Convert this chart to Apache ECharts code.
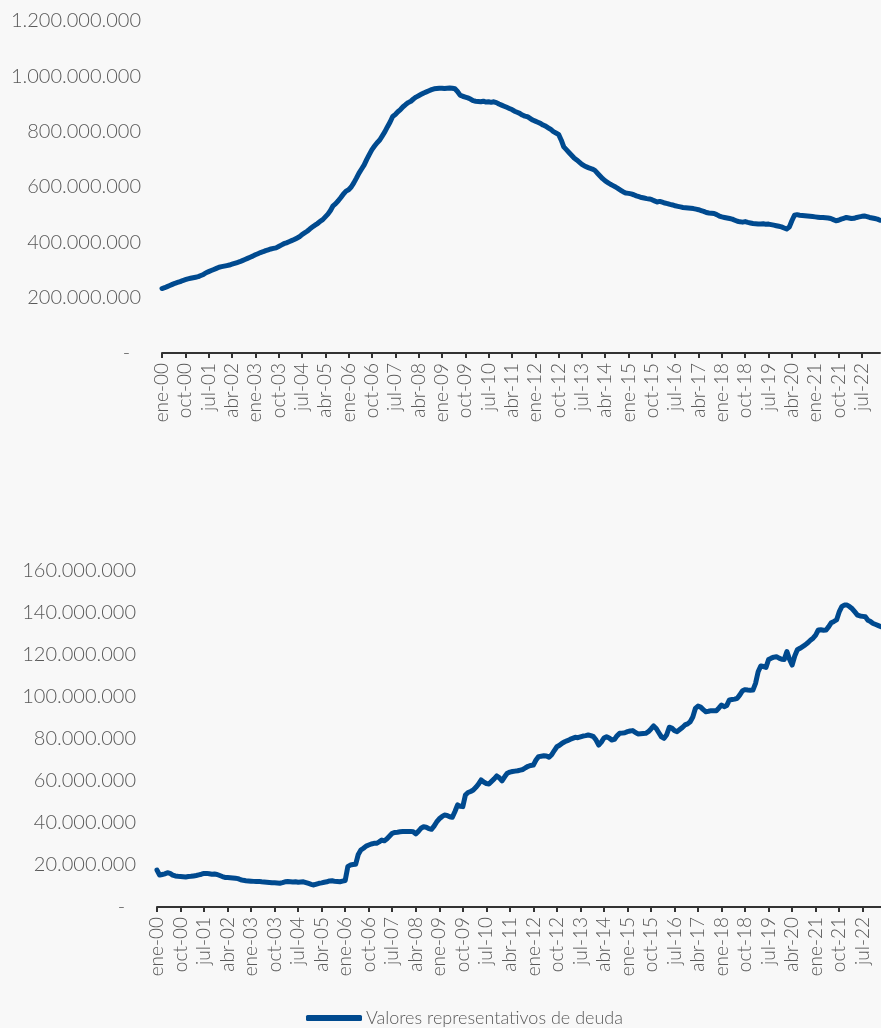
<!DOCTYPE html>
<html lang="es">
<head>
<meta charset="utf-8">
<title>Valores representativos de deuda</title>
<script src="https://cdn.jsdelivr.net/npm/echarts@6/dist/echarts.min.js"></script>
<style>
  html, body { margin: 0; padding: 0; background: #f8f8f8; }
  #chart { width: 881px; height: 1028px; }
</style>
</head>
<body>
<div id="chart"></div>
<script>
// Meses y años del eje horizontal (ene-00 ... feb-23)
const monthNames = ['ene','feb','mar','abr','may','jun','jul','ago','sep','oct','nov','dic'];
const years = ['00','01','02','03','04','05','06','07','08','09','10','11','12','13','14','15','16','17','18','19','20','21','22','23'];
const categories = [];
years.forEach(y => monthNames.forEach(m => categories.push(m + '-' + y)));
categories.length = 278;

const seriesName = 'Valores representativos de deuda';

// Saldo mensual, panel superior (millones)
const debtUpper = [
  233, 236, 240, 244, 248, 252, 255, 258, 262, 265, 268, 270,
  272, 274, 276, 280, 284, 290, 294, 298, 302, 306, 310, 312,
  314, 316, 318, 321, 324, 327, 330, 334, 338, 342, 346, 350,
  355, 359, 363, 366, 370, 373, 376, 378, 380, 385, 390, 395,
  398, 402, 406, 410, 415, 420, 428, 434, 440, 448, 455, 462,
  468, 476, 482, 492, 502, 515, 532, 540, 550, 562, 575, 585,
  590, 600, 615, 632, 650, 665, 680, 700, 718, 735, 748, 760,
  770, 785, 800, 818, 835, 855, 862, 872, 880, 890, 898, 905,
  910, 918, 925, 930, 935, 940, 944, 948, 952, 955, 956, 957,
  957, 956, 957, 958, 957, 955, 945, 932, 928, 925, 922, 918,
  912, 910, 909, 908, 910, 907, 908, 906, 908, 905, 900, 896,
  892, 888, 884, 880, 874, 870, 866, 860, 856, 854, 848, 842,
  838, 834, 830, 824, 820, 814, 808, 800, 795, 790, 770, 745,
  735, 725, 715, 705, 698, 690, 682, 676, 672, 668, 665, 660,
  650, 640, 630, 622, 616, 610, 605, 600, 594, 588, 582, 578,
  577, 575, 572, 568, 565, 562, 560, 558, 557, 554, 550, 546,
  548, 545, 542, 540, 537, 535, 532, 530, 528, 526, 525, 524,
  523, 522, 520, 518, 515, 512, 508, 506, 505, 504, 500, 495,
  492, 490, 488, 486, 484, 480, 476, 474, 473, 475, 472, 470,
  468, 467, 466, 466, 467, 465, 466, 464, 462, 460, 458, 456,
  452, 448, 455, 478, 498, 500, 498, 497, 496, 495, 494, 493,
  492, 491, 490, 490, 489, 488, 486, 482, 478, 480, 484, 487,
  490, 488, 486, 487, 490, 492, 494, 495, 493, 490, 488, 486,
  484, 480
];

// Saldo mensual, panel inferior (millones)
const debtLower = [
  17.6, 15.2, 15.5, 15.8, 16.3, 16.0, 15.2, 14.8, 14.6, 14.5, 14.4, 14.3,
  14.5, 14.6, 14.8, 15.0, 15.3, 15.6, 16.0, 16.0, 15.8, 15.6, 15.7, 15.5,
  15.0, 14.5, 14.1, 14.0, 13.9, 13.8, 13.7, 13.5, 13.0, 12.7, 12.5, 12.4,
  12.3, 12.2, 12.1, 12.2, 12.0, 11.9, 11.8, 11.7, 11.6, 11.5, 11.4, 11.3,
  11.6, 12.0, 12.1, 12.0, 11.9, 12.0, 11.8, 11.9, 12.0, 11.6, 11.2, 10.8,
  10.5, 10.9, 11.3, 11.5, 11.8, 12.0, 12.4, 12.5, 12.2, 12.1, 12.0, 12.3,
  12.6, 19.2, 20.0, 20.2, 20.3, 25.0, 27.1, 28.0, 29.0, 29.5, 30.0, 30.3,
  30.3, 31.0, 31.9, 31.5, 32.5, 33.8, 35.1, 35.5, 35.6, 35.8, 35.9, 35.9,
  35.9, 36.0, 35.8, 34.8, 36.0, 37.5, 38.2, 38.0, 37.3, 37.0, 38.5, 40.5,
  42.0, 43.0, 43.8, 43.6, 43.0, 42.7, 45.5, 48.6, 48.0, 47.8, 53.3, 54.5,
  55.0, 55.7, 57.0, 58.5, 60.5, 59.5, 58.8, 58.6, 59.8, 61.0, 62.4, 61.5,
  60.1, 62.0, 63.7, 64.2, 64.5, 64.7, 64.9, 65.2, 65.5, 66.3, 67.0, 67.4,
  67.6, 70.0, 71.6, 71.8, 72.0, 71.9, 71.3, 72.5, 74.5, 76.3, 77.0, 78.0,
  78.7, 79.2, 79.8, 80.3, 80.8, 80.6, 81.0, 81.4, 81.6, 81.9, 81.6, 81.1,
  79.5, 77.1, 78.5, 80.5, 81.1, 80.5, 79.5, 79.8, 81.5, 82.7, 82.8, 83.0,
  83.5, 83.8, 84.0, 83.2, 82.4, 82.5, 82.6, 82.7, 83.5, 84.8, 86.2, 85.0,
  83.0, 81.0, 80.3, 82.0, 85.6, 85.2, 84.0, 83.5, 84.5, 85.5, 86.7, 87.2,
  88.2, 90.5, 94.6, 95.7, 95.2, 94.0, 93.0, 93.2, 93.5, 93.4, 93.5, 94.8,
  96.2, 95.4, 96.0, 98.6, 98.8, 99.0, 99.4, 101.0, 103.0, 103.5, 103.3, 103.2,
  103.3, 106.5, 112.0, 114.8, 114.5, 114.1, 117.9, 118.5, 119.0, 119.2, 118.5, 118.0,
  117.9, 121.6, 118.0, 115.2, 119.5, 122.5, 123.2, 124.0, 124.8, 125.8, 127.0, 128.0,
  129.5, 131.9, 132.0, 131.8, 131.9, 133.5, 135.4, 136.0, 136.7, 140.5, 143.0, 143.8,
  143.8, 143.0, 142.0, 140.5, 139.0, 138.6, 138.4, 138.2, 136.5, 135.9, 135.0, 134.5,
  134.0, 133.5
];

// Escalas verticales (millones)
const upperAxis = { max: 1200, step: 200 };
const lowerAxis = { max: 160, step: 20 };

const FONT = 'Lato, "Open Sans", sans-serif';
const TEXT = '#595959';
const LINE = '#004a8f';

// Etiqueta en unidades con separador de miles "."
function fmtUnits(millions) {
  if (millions === 0) return '-  ';
  return String(Math.round(millions * 1e6)).replace(/\B(?=(\d{3})+(?!\d))/g, '.');
}

function xAxisFor(gridIndex) {
  return {
    type: 'category',
    gridIndex,
    data: categories,
    boundaryGap: false,
    axisLine: { lineStyle: { color: '#333333', width: 2 } },
    axisTick: { interval: 8, length: 5, lineStyle: { color: '#333333', width: 2 } },
    axisLabel: {
      interval: 8, rotate: 90, margin: 10,
      color: TEXT, fontFamily: FONT, fontSize: 19, fontWeight: 300
    },
    splitLine: { show: false }
  };
}

function yAxisFor(gridIndex, scale) {
  return {
    type: 'value',
    gridIndex,
    min: 0, max: scale.max, interval: scale.step,
    axisLine: { show: false },
    axisTick: { show: false },
    splitLine: { show: false },
    axisLabel: {
      margin: 21, color: TEXT, fontFamily: FONT, fontSize: 20, fontWeight: 300,
      formatter: fmtUnits
    }
  };
}

function lineSeries(axisIndex, values) {
  return {
    name: seriesName,
    type: 'line',
    xAxisIndex: axisIndex,
    yAxisIndex: axisIndex,
    data: values,
    showSymbol: false,
    symbol: 'none',
    smooth: false,
    lineStyle: { color: LINE, width: 5, cap: 'round', join: 'round' },
    itemStyle: { color: LINE },
    animation: false
  };
}

const chart = echarts.init(document.getElementById('chart'), null, { renderer: 'canvas' });
chart.setOption({
  backgroundColor: '#f8f8f8',
  animation: false,
  grid: [
    { left: 162, top: 21, width: 718, height: 332 },
    { left: 157, top: 571, width: 736, height: 336 }
  ],
  xAxis: [xAxisFor(0), xAxisFor(1)],
  yAxis: [yAxisFor(0, upperAxis), yAxisFor(1, lowerAxis)],
  legend: {
    left: 301, top: 1004,
    icon: 'roundRect', itemWidth: 56, itemHeight: 6, itemGap: 5,
    textStyle: { color: TEXT, fontFamily: FONT, fontSize: 18, fontWeight: 300, padding: [0, 0, 0, -1] },
    data: [{ name: seriesName, itemStyle: { color: LINE } }]
  },
  series: [lineSeries(0, debtUpper), lineSeries(1, debtLower)]
});
</script>
</body>
</html>
